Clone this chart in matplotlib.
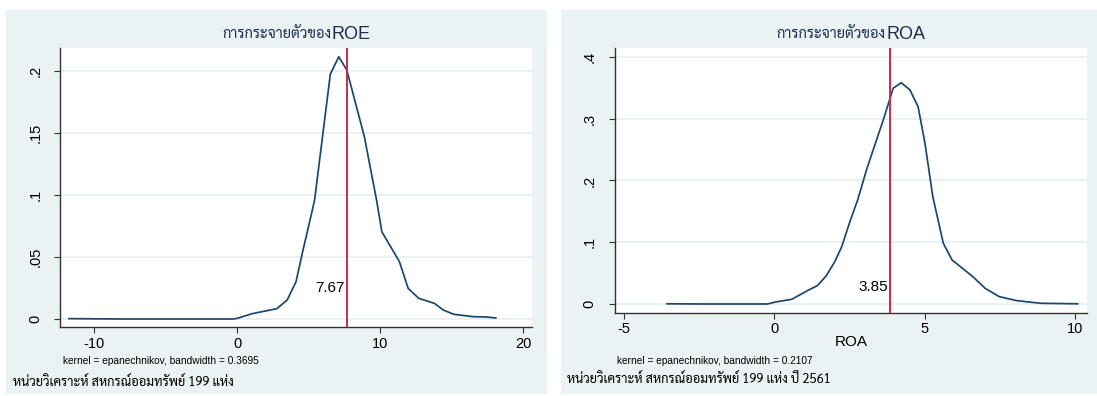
import matplotlib
matplotlib.use("Agg")
import matplotlib.pyplot as plt
from matplotlib.patches import Rectangle
from matplotlib.transforms import offset_copy

# ---- kernel density estimates (Epanechnikov) ----
roe_x = [-11.76, -10.5, -8.0, -5.0, -2.0, -0.3, 0.0, 1.05, 2.77, 3.50, 4.12,
         4.61, 5.10, 5.42, 6.52, 7.11, 7.67, 8.90, 9.75, 10.12,
         11.35, 11.96, 12.70, 13.80, 14.41, 15.15, 16.50, 17.48, 18.09]
roe_y = [0.0003, 0.0002, 0.0, 0.0, 0.0, 0.0, 0.0005, 0.0043, 0.0083,
         0.0153, 0.0301, 0.0557, 0.0799, 0.0961, 0.1978, 0.2118,
         0.2011, 0.1472, 0.0961, 0.0705, 0.0463, 0.0248,
         0.0167, 0.0126, 0.0073, 0.0038, 0.0019, 0.0016, 0.0008]

roa_x = [-3.57, -2.5, -1.0, -0.23, 0.035, 0.58, 1.14, 1.43, 1.72, 2.01, 2.24,
         2.53, 2.77, 3.08, 3.64, 3.95, 4.22, 4.51, 4.78, 5.01, 5.27,
         5.62, 5.91, 6.60, 7.01, 7.48, 8.06, 8.87, 10.09]
roa_y = [0.0003, 0.0, 0.0, 0.0, 0.0032, 0.0076, 0.0227, 0.0297, 0.0453, 0.0686,
         0.0928, 0.1360, 0.1684, 0.2197, 0.3007, 0.3493, 0.3584,
         0.3466, 0.3196, 0.2602, 0.1738, 0.0982, 0.0713, 0.0443,
         0.0254, 0.0119, 0.0054, 0.0011, 0.0003]

roe_mark = 7.67
roa_mark = 3.85

roe_xticks = [-10, 0, 10, 20]
roe_yticks = [0, 0.05, 0.1, 0.15, 0.2]
roe_yticklabels = ["0", ".05", ".1", ".15", ".2"]
roa_xticks = [-5, 0, 5, 10]
roa_yticks = [0, 0.1, 0.2, 0.3, 0.4]
roa_yticklabels = ["0", ".1", ".2", ".3", ".4"]

title_th = "การกระจายตัวของ"
note_roe = "kernel = epanechnikov, bandwidth = 0.3695"
note_roa = "kernel = epanechnikov, bandwidth = 0.2107"
caption_roe = "หน่วยวิเคราะห์ สหกรณ์ออมทรัพย์ 199 แห่ง"
caption_roa = "หน่วยวิเคราะห์ สหกรณ์ออมทรัพย์ 199 แห่ง ปี 2561"

# ---- style ----
W, H = 1097, 396
BG = "#eaf2f3"
GRID = "#e3edf0"
LINE = "#1a476f"
MARK = "#cc2a4b"
AXC = "#333333"
LAT = ["Liberation Sans", "DejaVu Sans"]
THAI = ["Sarabun", "Noto Sans Thai", "DejaVu Sans"]
TITLE_C = "#1f2d4f"

plt.rcParams["font.family"] = LAT

fig = plt.figure(figsize=(W / 100, H / 100), dpi=100)
fig.patch.set_facecolor("white")


def px(x, y):
    return x / W, 1 - y / H


def rect(l, t, r, b):
    return [l / W, 1 - b / H, (r - l) / W, (b - t) / H]


# graph regions
for l, r in [(6.3, 547.0), (561.0, 1097.0)]:
    fig.patches.append(Rectangle((l / W, 1 - 394 / H), (r - l) / W, (394 - 10.3) / H,
                                 transform=fig.transFigure, facecolor=BG,
                                 edgecolor="none", zorder=-5))


def panel(box, xs, ys, mark, xlim, ylim, xticks, yticks, ylabels, xpad):
    ax = fig.add_axes(rect(*box))
    ax.set_zorder(2)
    ax.set_facecolor("white")
    ax.plot(xs, ys, color=LINE, lw=1.25, zorder=3)
    ax.axvline(mark, color=MARK, lw=1.4, zorder=4)
    ax.set_xlim(*xlim)
    ax.set_ylim(*ylim)
    ax.set_xticks(xticks)
    ax.set_xticklabels([str(t) for t in xticks])
    ax.set_yticks(yticks)
    ax.set_yticklabels(ylabels)
    for s in ("top", "right"):
        ax.spines[s].set_visible(False)
    for s in ("left", "bottom"):
        ax.spines[s].set_color(AXC)
        ax.spines[s].set_linewidth(1.0)
    ax.grid(axis="y", color=GRID, lw=1.2, zorder=1)
    ax.set_axisbelow(True)
    ax.tick_params(axis="x", length=4, width=0.8, color=AXC, labelsize=10.5, pad=xpad)
    ax.tick_params(axis="y", length=4, width=0.8, color=AXC, labelsize=10.5, pad=9,
                   labelrotation=90)
    for lb in ax.get_yticklabels():
        lb.set_va("center")
    t = offset_copy(ax.transData, fig=fig, x=-2, y=0, units="dots")
    return ax, t


ax1, t1 = panel((60.2, 48.3, 531.7, 327.3), roe_x, roe_y, roe_mark,
                (-12.37, 20.6), (-0.0067, 0.2186),
                roe_xticks, roe_yticks, roe_yticklabels, 3)
ax1.text(roe_mark, 0.0248, f"{roe_mark:.2f}", transform=t1, ha="right", va="center",
         fontsize=11, color="black", zorder=5)

ax2, t2 = panel((614.5, 48.3, 1087.3, 313.3), roa_x, roa_y, roa_mark,
                (-5.32, 10.41), (-0.0151, 0.4141),
                roa_xticks, roa_yticks, roa_yticklabels, 2)
ax2.text(roa_mark, 0.027, f"{roa_mark:.2f}", transform=t2, ha="right", va="center",
         fontsize=11, color="black", zorder=5)

# titles: Thai words followed by the variable name
for split, name in [(331.0, "ROE"), (885.0, "ROA")]:
    fig.text(*px(split, 34.5), title_th, family=THAI, fontsize=10.5, color=TITLE_C,
             ha="right", va="center")
    fig.text(*px(split + 1, 34.5), name, fontsize=13, color=TITLE_C,
             ha="left", va="center")

# x-axis title of the ROA graph
fig.text(*px(850.9, 341.7), "ROA", fontsize=11, ha="center", va="center")

# notes and captions
fig.text(*px(62.7, 360.7), note_roe, fontsize=7.3, ha="left", va="center")
fig.text(*px(617.3, 361.0), note_roa, fontsize=7.3, ha="left", va="center")
fig.text(*px(13.3, 382.3), caption_roe, family=THAI, fontsize=9.2, ha="left", va="center")
fig.text(*px(567.3, 379.0), caption_roa, family=THAI, fontsize=9.2, ha="left", va="center")

fig.savefig("out.png", dpi=100, facecolor="white")
